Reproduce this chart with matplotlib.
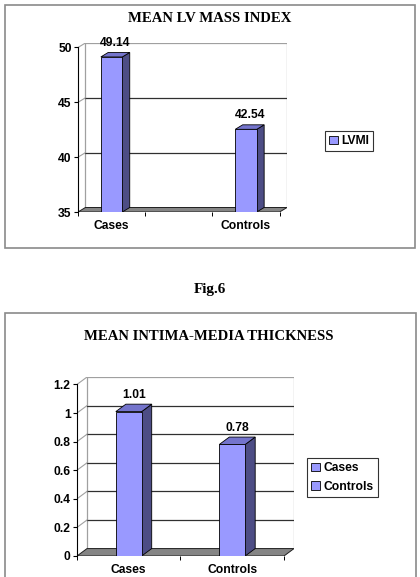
import numpy as np
import matplotlib
matplotlib.use('Agg')
import matplotlib.pyplot as plt
from matplotlib.patches import Rectangle, Patch

plt.rcParams['font.family'] = ['Liberation Sans', 'DejaVu Sans']

# chart 1 - mean LV mass index (Excel left an empty middle category)
lv_categories = ['Cases', '', 'Controls']
lv_values = [49.14, np.nan, 42.54]
lv_ticks = [35, 40, 45, 50]
lv_tick_labels = ['35', '40', '45', '50']
lv_legend = ['LVMI']

# chart 2 - mean intima-media thickness
imt_categories = ['Cases', 'Controls']
imt_values = [1.01, 0.78]
imt_ticks = [0, 0.2, 0.4, 0.6, 0.8, 1.0, 1.2]
imt_tick_labels = ['0', '0.2', '0.4', '0.6', '0.8', '1', '1.2']
imt_legend = ['Cases', 'Controls']

W, H = 420, 577
FRONT = '#9999FF'
SIDE = '#4D4D85'
TOP = '#7474CC'
FS = 8.7


def px_rect(x0, y0, x1, y1):
    return [x0 / W, 1 - y1 / H, (x1 - x0) / W, (y1 - y0) / H]


def draw_3d_bars(ax, categories, values, ticks, tick_labels, width, dx, dy):
    n = len(categories)
    ymin, ymax = ticks[0], ticks[-1]
    x0, x1 = -0.5, n - 0.5
    ax.set_xlim(x0, x1 + dx)
    ax.set_ylim(ymin, ymax + dy)

    # back wall + gridlines
    ax.plot([x0 + dx, x1 + dx, x1 + dx], [ymax + dy, ymax + dy, ymin + dy],
            color='#A0A0A0', lw=0.9, zorder=1)
    ax.plot([x0 + dx, x0 + dx], [ymin + dy, ymax + dy], color='#A0A0A0', lw=0.9, zorder=1)
    for t in ticks[1:-1]:
        ax.plot([x0 + dx, x1 + dx], [t + dy, t + dy], color='#303030', lw=0.9, zorder=1)
    # side wall lines
    for t in ticks[1:]:
        ax.plot([x0, x0 + dx], [t, t + dy], color='#A0A0A0', lw=0.8, zorder=1)

    # floor
    ax.fill([x0, x1, x1 + dx, x0 + dx], [ymin, ymin, ymin + dy, ymin + dy],
            facecolor='#858585', edgecolor='#202020', lw=0.7, zorder=2)

    xs = np.arange(n)
    vals = np.array(values, dtype=float)
    ok = ~np.isnan(vals)
    for x, v in zip(xs[ok], vals[ok]):
        l, r = x - width / 2, x + width / 2
        ax.fill([r, r + dx, r + dx, r], [ymin, ymin + dy, v + dy, v],
                facecolor=SIDE, edgecolor='black', lw=0.6, zorder=3)
        ax.fill([l, r, r + dx, l + dx], [v, v, v + dy, v + dy],
                facecolor=TOP, edgecolor='black', lw=0.6, zorder=3)
        ax.annotate(f'{v:.2f}', (x + dx / 2, v + dy), xytext=(0, 2.5),
                    textcoords='offset points', ha='center', va='bottom',
                    fontsize=FS, fontweight='bold', zorder=5)
    ax.bar(xs[ok], vals[ok] - ymin, width=width, bottom=ymin, color=FRONT,
           edgecolor='black', lw=0.6, zorder=4)

    for s in ['top', 'right', 'bottom']:
        ax.spines[s].set_visible(False)
    ax.spines['left'].set_bounds(ymin, ymax)
    ax.spines['left'].set_linewidth(0.8)
    ax.set_yticks(ticks, tick_labels)
    ax.tick_params(axis='y', direction='out', length=3, width=0.8, pad=1.5,
                   labelsize=FS)
    ax.set_xticks(xs, categories)
    ax.set_xticks(np.arange(n + 1) - 0.5, minor=True)
    ax.tick_params(axis='x', which='major', length=0, pad=5.5, labelsize=FS)
    ax.tick_params(axis='x', which='minor', direction='out', length=3, width=0.7)
    for lab in ax.get_xticklabels() + ax.get_yticklabels():
        lab.set_fontweight('bold')
    ax.patch.set_visible(False)


fig = plt.figure(figsize=(W / 100, H / 100), dpi=100)

# panel borders
fig.patches.append(Rectangle((5 / W, 1 - 248 / H), 410 / W, 243 / H, transform=fig.transFigure,
                             fill=False, edgecolor='#8A8A8A', lw=1.2))
fig.patches.append(Rectangle((5 / W, 1 - 585 / H), 411 / W, 272 / H, transform=fig.transFigure,
                             fill=False, edgecolor='#8A8A8A', lw=1.2))

serif = ['Liberation Serif', 'DejaVu Serif']
fig.text(210 / W, 1 - 19 / H, 'MEAN LV MASS INDEX', family=serif, fontweight='bold',
         fontsize=10.6, ha='center', va='center')
fig.text(210 / W, 1 - 290 / H, 'Fig.6', family=serif, fontweight='bold',
         fontsize=11, ha='center', va='center')
fig.text(209 / W, 1 - 337 / H, 'MEAN INTIMA-MEDIA THICKNESS', family=serif,
         fontweight='bold', fontsize=10.6, ha='center', va='center')

ax1 = fig.add_axes(px_rect(78, 43, 287, 212))
draw_3d_bars(ax1, lv_categories, lv_values, lv_ticks, lv_tick_labels,
             width=0.32, dx=0.11, dy=0.41)

ax2 = fig.add_axes(px_rect(77, 377, 294, 556))
draw_3d_bars(ax2, imt_categories, imt_values, imt_ticks, imt_tick_labels,
             width=0.25, dx=0.097, dy=0.052)


def add_legend(labels, x, y):
    handles = [Patch(facecolor=FRONT, edgecolor='black', lw=0.6) for _ in labels]
    leg = fig.legend(handles, labels, loc='upper left', bbox_to_anchor=(x / W, 1 - y / H),
                     bbox_transform=fig.transFigure, frameon=True, fancybox=False,
                     borderaxespad=0, handlelength=0.7, handleheight=0.7,
                     handletextpad=0.3, borderpad=0.35, labelspacing=0.55,
                     prop={'weight': 'bold', 'size': FS})
    leg.get_frame().set_edgecolor('black')
    leg.get_frame().set_linewidth(0.8)


add_legend(lv_legend, 325, 131)
add_legend(imt_legend, 307, 458)

fig.savefig('out.png', dpi=100)
